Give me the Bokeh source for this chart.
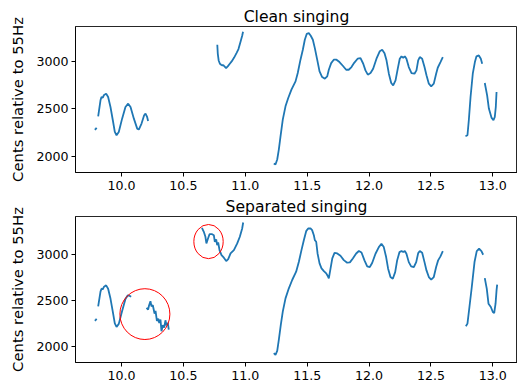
from bokeh.plotting import figure
from bokeh.layouts import column
from bokeh.models import Range1d, FixedTicker, PrintfTickFormatter
from bokeh.embed import file_html
from bokeh.resources import INLINE

# ---------------- data ----------------
x_ticks = [10.0, 10.5, 11.0, 11.5, 12.0, 12.5, 13.0]
y_ticks = [2000, 2500, 3000]
y_label = "Cents relative to 55Hz"
title_clean = "Clean singing"
title_sep = "Separated singing"

# Clean singing pitch segments (time s, cents)
clean_t = [
    [9.784, 9.792, 9.799],
    [9.8115, 9.8303, 9.8384, 9.849, 9.857, 9.876, 9.892, 9.911, 9.930, 9.946, 9.960, 9.978,
     10.005, 10.032, 10.054, 10.073, 10.100, 10.127, 10.140, 10.162, 10.183, 10.194, 10.207, 10.215],
    [10.774, 10.778, 10.785, 10.795, 10.805, 10.815, 10.822, 10.830, 10.845, 10.860, 10.875,
     10.890, 10.910, 10.930, 10.945, 10.960, 10.975, 10.982],
    [11.2305, 11.244, 11.258, 11.271, 11.285, 11.303, 11.325, 11.347, 11.373, 11.406, 11.424,
     11.446, 11.465, 11.481, 11.497, 11.513, 11.529, 11.546, 11.562, 11.581, 11.600, 11.621,
     11.643, 11.662, 11.675, 11.694, 11.715, 11.737, 11.761, 11.788, 11.815, 11.836, 11.858,
     11.880, 11.909, 11.931, 11.953, 11.971, 11.990, 12.012, 12.033, 12.060, 12.087, 12.106,
     12.125, 12.141, 12.160, 12.179, 12.195, 12.214, 12.232, 12.248, 12.262, 12.276, 12.289,
     12.302, 12.321, 12.343, 12.367, 12.383, 12.397, 12.410, 12.429, 12.448, 12.464, 12.483,
     12.502, 12.523, 12.542, 12.555, 12.577, 12.596],
    [12.779, 12.795, 12.806, 12.820, 12.838, 12.855, 12.868, 12.887, 12.903, 12.914],
    [12.935, 12.954, 12.968, 12.989, 13.005, 13.016, 13.024, 13.030],
]
clean_c = [
    [2278, 2286, 2300],
    [2421, 2589, 2624, 2618, 2642, 2660, 2624, 2519, 2379, 2256, 2221, 2256,
     2396, 2519, 2554, 2519, 2396, 2291, 2281, 2344, 2432, 2449, 2414, 2372],
    [3175, 3080, 3010, 2975, 2965, 2958, 2962, 2950, 2930, 2950, 2975,
     3000, 3040, 3090, 3130, 3200, 3270, 3312],
    [1923, 1912, 1965, 2070, 2211, 2386, 2526, 2614, 2702, 2789, 2877,
     3018, 3123, 3228, 3291, 3298, 3270, 3228, 3140, 3018, 2895, 2835,
     2818, 2842, 2912, 2982, 3018, 3018, 2993, 2954, 2912, 2912, 2940,
     2985, 3030, 3035, 2975, 2905, 2860, 2877, 2923, 3028, 3108, 3123,
     3087, 3011, 2870, 2772, 2747, 2800, 2923, 3028, 3053, 3039, 3053,
     3028, 2940, 2877, 2870, 2905, 3011, 3046, 3028, 2940, 2853, 2765,
     2737, 2765, 2870, 2933, 2993, 3046],
    [2211, 2221, 2379, 2624, 2870, 2993, 3053, 3063, 3028, 2975],
    [2772, 2642, 2502, 2407, 2379, 2414, 2519, 2677],
]

# Separated singing pitch segments (time s, cents)
sep_t = [
    [9.784, 9.792, 9.799],
    [9.8115, 9.8303, 9.8384, 9.849, 9.857, 9.876, 9.892, 9.911, 9.930, 9.946, 9.960, 9.978,
     10.005, 10.032, 10.051, 10.065, 10.078],
    [10.202, 10.215, 10.223, 10.234, 10.242, 10.253, 10.267, 10.275, 10.286, 10.297, 10.305,
     10.315, 10.323, 10.334, 10.345, 10.355, 10.363, 10.374, 10.382],
    [10.650, 10.665, 10.678, 10.686, 10.697, 10.711, 10.732, 10.746, 10.754, 10.765, 10.773,
     10.781, 10.792, 10.808, 10.827, 10.846, 10.862, 10.881, 10.908, 10.935, 10.956, 10.975,
     10.983],
    [11.2305, 11.244, 11.258, 11.271, 11.287, 11.303, 11.325, 11.352, 11.379, 11.411, 11.433,
     11.454, 11.473, 11.492, 11.508, 11.527, 11.540, 11.554, 11.562, 11.573, 11.584, 11.600,
     11.616, 11.635, 11.654, 11.665, 11.675, 11.689, 11.703, 11.721, 11.743, 11.769, 11.796,
     11.823, 11.845, 11.869, 11.896, 11.918, 11.939, 11.963, 11.985, 12.006, 12.025, 12.052,
     12.079, 12.100, 12.119, 12.138, 12.154, 12.173, 12.192, 12.211, 12.227, 12.246, 12.262,
     12.276, 12.289, 12.302, 12.321, 12.340, 12.362, 12.381, 12.397, 12.410, 12.429, 12.448,
     12.464, 12.483, 12.502, 12.523, 12.542, 12.558, 12.577, 12.596],
    [12.782, 12.795, 12.811, 12.830, 12.852, 12.870, 12.889, 12.908, 12.922],
    [12.935, 12.951, 12.965, 12.984, 13.000, 13.011, 13.022, 13.030, 13.035],
]
sep_c = [
    [2285, 2292, 2305],
    [2440, 2600, 2632, 2625, 2650, 2668, 2632, 2525, 2380, 2255, 2217, 2250,
     2390, 2520, 2560, 2555, 2545],
    [2423, 2405, 2452, 2495, 2441, 2452, 2362, 2390, 2282, 2307, 2260,
     2297, 2170, 2235, 2210, 2289, 2235, 2260, 2188],
    [3292, 3249, 3195, 3123, 3169, 3223, 3223, 3212, 3141, 3166, 3104,
     3133, 3050, 2996, 2968, 2931, 2953, 3014, 3050, 3123, 3195, 3285,
     3350],
    [1932, 1914, 1957, 2076, 2239, 2383, 2527, 2636, 2726, 2816, 2924,
     3050, 3158, 3256, 3285, 3285, 3267, 3212, 3158, 3141, 3014, 2906,
     2852, 2823, 2798, 2773, 2744, 2852, 2960, 3021, 3014, 2989, 2942,
     2914, 2917, 2960, 3014, 3041, 3025, 2939, 2874, 2867, 2910, 3011,
     3083, 3119, 3083, 2975, 2849, 2758, 2740, 2812, 2939, 3029, 3040,
     3029, 3040, 3011, 2920, 2874, 2867, 2920, 3018, 3040, 3022, 2920,
     2830, 2758, 2730, 2758, 2867, 2939, 2982, 3040],
    [2224, 2253, 2433, 2650, 2921, 3040, 3065, 3040, 3000],
    [2747, 2632, 2469, 2433, 2379, 2368, 2469, 2614, 2675],
]

# Highlight circles on the separated-singing panel (centre x, centre y, width s, height cents)
circle_x = [10.189, 10.703]
circle_y = [2356, 3143]
circle_w = [0.404, 0.237]
circle_h = [551, 371]

# ---------------- styling ----------------
LINE = "#1f77b4"
FONT = "DejaVu Sans"


def make_fig(title, ylo, yhi, top_border, bottom_border):
    p = figure(frame_width=442, frame_height=146, output_backend="svg", toolbar_location=None,
               x_range=Range1d(9.6284, 13.1993), y_range=Range1d(ylo, yhi),
               min_border_left=75, min_border_right=0,
               min_border_top=top_border, min_border_bottom=bottom_border,
               title=title)
    p.title.text_font = FONT
    p.title.text_font_size = "15.6px"
    p.title.text_font_style = "normal"
    p.title.align = "center"
    p.title.standoff = 2
    p.title.text_color = "black"
    p.xgrid.visible = False
    p.ygrid.visible = False
    p.outline_line_color = "black"
    p.outline_line_alpha = 0.85
    p.outline_line_width = 1
    p.background_fill_color = "white"
    p.border_fill_color = "white"
    p.xaxis.ticker = FixedTicker(ticks=x_ticks)
    p.xaxis.formatter = PrintfTickFormatter(format="%.1f")
    p.yaxis.ticker = FixedTicker(ticks=y_ticks)
    for ax in (p.xaxis[0], p.yaxis[0]):
        ax.major_tick_in = 0
        ax.major_tick_out = 4
        ax.minor_tick_line_color = None
        ax.axis_line_color = "black"
        ax.axis_line_alpha = 0.85
        ax.major_tick_line_color = "black"
        ax.major_label_text_font = FONT
        ax.major_label_text_font_size = "12.6px"
        ax.major_label_text_color = "black"
    p.xaxis.major_label_standoff = 4
    p.yaxis.major_label_standoff = 3
    p.yaxis.axis_label = y_label
    p.yaxis.axis_label_text_font = FONT
    p.yaxis.axis_label_text_font_size = "14.8px"
    p.yaxis.axis_label_text_font_style = "normal"
    p.yaxis.axis_label_text_color = "black"
    p.yaxis.axis_label_standoff = 7
    return p


p1 = make_fig(title_clean, 1828, 3368, 26, 20)
p1.multi_line(xs=clean_t, ys=clean_c, line_color=LINE, line_width=1.8)

p2 = make_fig(title_sep, 1831, 3415, 24, 23)
p2.multi_line(xs=sep_t, ys=sep_c, line_color=LINE, line_width=1.8)
p2.ellipse(x=circle_x, y=circle_y, width=circle_w, height=circle_h,
           fill_color=None, line_color="red", line_width=1)

layout = column(p1, p2, spacing=0)
open("out.html", "w").write(file_html(layout, INLINE))
